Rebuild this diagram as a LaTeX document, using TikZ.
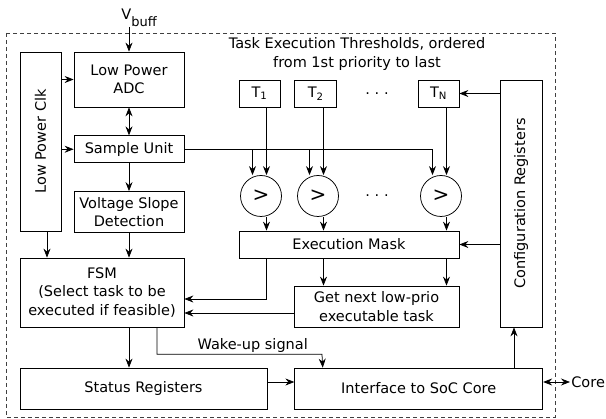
\documentclass[tikz,border=0pt]{standalone}
\usepackage{fontspec}
\setmainfont{DejaVu Sans}
\usetikzlibrary{arrows.meta}
\usetikzlibrary{positioning}

\begin{document}
\begin{tikzpicture}[x=1pt, y=-1pt, ->, >={Stealth[length=9pt,width=7pt,inset=3pt]}, line width=0.75pt, font=\fontsize{14.5}{18.5}\selectfont]
            \tikzstyle{block}=[draw, rectangle, align=center, inner sep=2pt]
            \tikzstyle{cmp}=[draw, circle, minimum size=41pt, inner sep=0pt, font=\fontsize{20}{20}\selectfont]
            \useasboundingbox (0,0) rectangle (606,419);
            \draw[-, dash pattern=on 4pt off 3pt, black!75] (6,33) rectangle (555,417);

            \node[block, minimum width=41pt, minimum height=179pt] (clk) at (40.5,141.5) {\rotatebox{90}{Low Power Clk}};
            \node[block, minimum width=110pt, minimum height=55pt] (adc) at (129,79.5) {Low Power\\ADC};
            \node[block, minimum width=110pt, minimum height=27pt, below=28pt of adc] (sample) {Sample Unit};
            \node[block, minimum width=110pt, minimum height=41pt, below=28pt of sample] (slope) {Voltage Slope\\Detection};
            \node[block, minimum width=164pt, minimum height=69pt] (fsm) at (102,292.5) {FSM\\(Select task to be\\executed if feasible)};
            \node[block, minimum width=247pt, minimum height=41pt] (status) at (143.5,388.5) {Status Registers};
            \node[block, minimum width=248pt, minimum height=41pt, right=27pt of status] (iface) {Interface to SoC Core};
            \node[block, minimum width=42pt, minimum height=247pt] (config) at (521,203.5) {\rotatebox{90}{Configuration Registers}};
            \node[anchor=south west, inner sep=0pt] (vbuff) at (121,27) {V\raisebox{-7pt}{\fontsize{13}{13}\selectfont buff}};
            \node[anchor=west, inner sep=0pt] (core) at (571,382) {Core};
            \node[align=center] (title) at (357,54) {Task Execution Thresholds, ordered\\from 1st priority to last};

            % thresholds and comparators
            \node[block, minimum width=41pt, minimum height=27pt] (t1) at (259.5,93.5) {T\textsubscript{1}};
            \node[block, minimum width=42pt, minimum height=27pt, right=14pt of t1] (t2) {T\textsubscript{2}};
            \node (tdots) at (377,93.5) {.\,\,.\,\,.};
            \node[block, minimum width=41pt, minimum height=27pt] (tn) at (438.5,93.5) {T\textsubscript{N}};
            \node[cmp] (c1) at (261,196) {>};
            \node[cmp] (c2) at (318,196) {>};
            \node (cdots) at (377,196) {.\,\,.\,\,.};
            \node[cmp] (c3) at (441,196) {>};
            \node[block, minimum width=220pt, minimum height=27pt] (mask) at (349,244.5) {Execution Mask};
            \node[block, minimum width=165pt, minimum height=41pt] (next) at (376.5,306.5) {Get next low-prio\\executable task};

            \draw (adc.north |- vbuff.south) -- (adc.north);
            \draw (adc.west -| clk.east) -- (adc.west);
            \draw (sample.west -| clk.east) -- (sample.west);
            \draw[<->] (adc) -- (sample);
            \draw (sample) -- (slope);
            \draw ([xshift=6.5pt]clk.south) -- ([xshift=6.5pt]clk.south |- fsm.north);
            \draw (slope.south) -- (slope.south |- fsm.north);
            \draw (fsm.south -| adc.south) -- (status.north -| adc.south);
            \draw ([yshift=6.5pt]status.east) -- ([yshift=6.5pt]status.east -| iface.west);
            \draw[<->] ([yshift=6.5pt]iface.east) -- ([xshift=-1pt]core.west);
            \draw ([xshift=-7pt]config.south |- iface.north) -- ([xshift=-7pt]config.south);
            \draw (config.west |- tn.east) -- (tn.east);
            \draw (config.west |- mask.east) -- (mask.east);

            \draw[-] (sample.east) -- ([xshift=-8.5pt]c3.north |- sample.east);
            \foreach \t/\c in {t1/c1, t2/c2, tn/c3} {
                \draw ([xshift=5.5pt]\c.north |- \t.south) -- ([xshift=5.5pt]\c.north);
                \draw ([xshift=-8.5pt]\c.north |- sample.east) -- ([xshift=-8.5pt]\c.north);
                \draw ([xshift=5.5pt]\c.south) -- ([xshift=5.5pt]\c.south |- mask.north);
            }
            \draw ([xshift=5.5pt]c2.south |- mask.south) -- ([xshift=5.5pt]c2.south |- next.north);
            \draw ([xshift=5.5pt]c3.south |- mask.south) -- ([xshift=5.5pt]c3.south |- next.north);
            \draw ([xshift=5.5pt]c1.south |- mask.south) |- ([yshift=-6.5pt]fsm.east);
            \draw ([yshift=-6.5pt]next.west) -- ([yshift=-6.5pt]next.west -| fsm.east);
            \draw ([xshift=55pt]fsm.south) -- ++(0,27) -- node[above, pos=0.58, inner sep=1pt] {Wake-up signal} ++(165,0) -- ([xshift=-96pt]iface.north);
        \end{tikzpicture}
\end{document}
